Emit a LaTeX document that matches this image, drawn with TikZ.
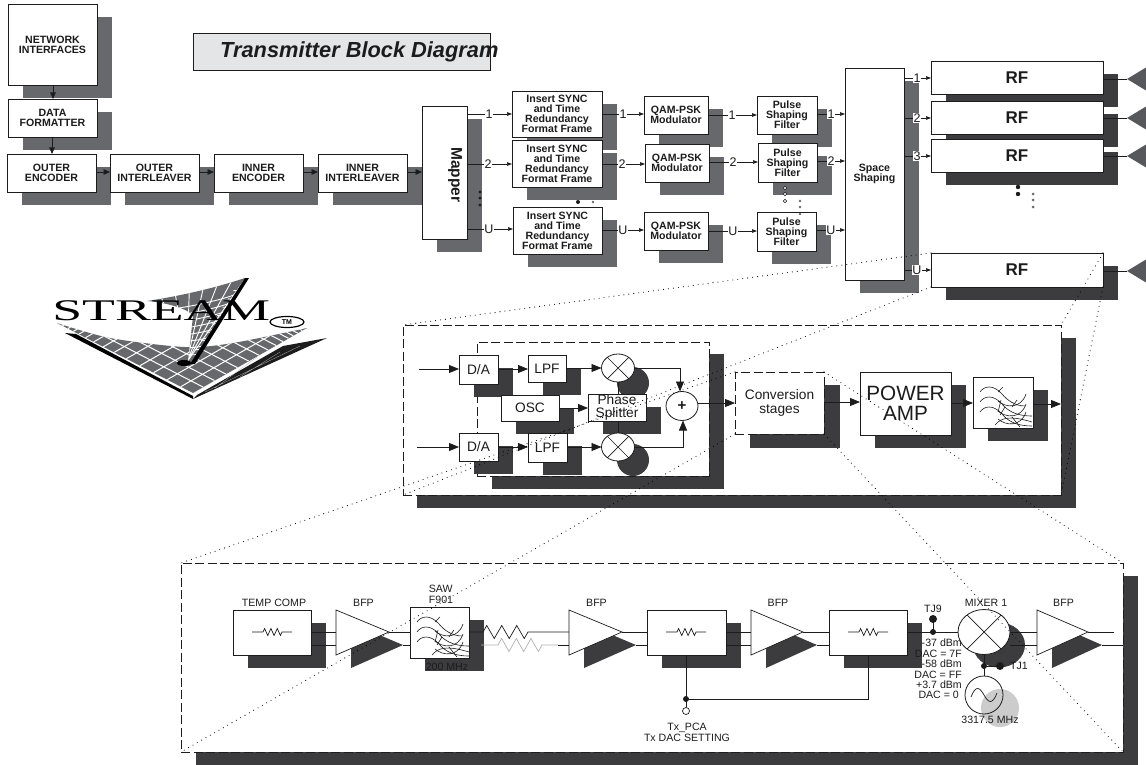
\documentclass[tikz,border=0pt]{standalone}
\usepackage{fontspec}
\setmainfont{Liberation Sans}
\newfontfamily\logofont{Liberation Serif}
\usetikzlibrary{arrows.meta,shapes.geometric,calc}
\definecolor{dk}{HTML}{3C3C3E}
\definecolor{md}{HTML}{66686C}
\definecolor{ink}{HTML}{1C1C1C}
\definecolor{ttl}{HTML}{E4E5E7}
\newcommand{\fz}[2]{\fontsize{#1}{#2}\selectfont}
\newcommand{\blk}[7][]{%
  \pgfmathsetmacro\bxw{#5-#3}\pgfmathsetmacro\bxh{#6-#4}%
  \node[blockbox,#1,minimum width=\bxw pt,minimum height=\bxh pt] (#2) at ({(#3+#5)/2},{(#4+#6)/2}) {#7};}
\newcommand{\sblk}[8][]{%
  \fill[#2] ({#4+15},{#5+13}) rectangle ({#6+15},{#7+13});
  \blk[#1]{#3}{#4}{#5}{#6}{#7}{#8}}
\newcommand{\conn}[5]{%
  \draw[sarr] (#1.east |- 0,#3) -- (#2.west |- 0,#3);
  \node[numlab] (#1-#2-lab) at (#5,#3) {#4};}
\newcommand{\zig}[4]{% x0 x1 y amp : three-peak resistor between x0 and x1
  ++(0,0) -- ({#1+(#2-#1)/12},{#3-#4}) -- ({#1+3*(#2-#1)/12},{#3+#4}) -- ({#1+5*(#2-#1)/12},{#3-#4}) -- ({#1+7*(#2-#1)/12},{#3+#4}) -- ({#1+9*(#2-#1)/12},{#3-#4}) -- ({#1+11*(#2-#1)/12},{#3+#4}) -- (#2,#3)}
\newcommand{\filt}[2]{%
\begin{scope}[shift={(#1,#2)},line width=.6pt,ink]
 \foreach \d/\e in {0/52,10/59,20/59}{
  \draw (7,{15+\d}) .. controls (11,{9+\d}) and (20,{7+\d}) .. (29,{17+\d}) .. controls (34,{23+\d}) and (42,{29+\d}) .. (\e,{29+\d});}
 \foreach \d in {0,10,18}{
  \draw (25,{24+\d}) .. controls (33,{31+\d}) and (48,{32+\d}) .. (53,{17+\d});}
 \draw (22,48) .. controls (28,41) and (36,38) .. (59,45);
 \draw (25,15) -- (30,10) (39,30) -- (44,23) (27,38) -- (32,30) (39,40) -- (47,50) (28,23) -- (25,35);
\end{scope}}
\newcommand{\amplf}[3]{% name, left x, right x
  \fill[dk] ({#2+15},623) -- ({#2+15},668) -- ({#3+14},645) -- cycle;
  \draw[wire,fill=white] (#2,610) -- (#2,655) -- (#3,632) -- cycle;
  \coordinate (#1i) at (#2,632); \coordinate (#1o) at (#3,632);
  \coordinate (#1j) at (#2,645); \coordinate (#1p) at ({#3+14},645);
  \node[lowtxt] (#1lab) at ({(#2+#3)/2+1},603) {BFP};}
\tikzset{
  blockbox/.style={draw=ink,fill=white,line width=.8pt,inner sep=0pt,outer sep=0pt,align=center,text=ink},
  headb/.style={font=\bfseries\fz{10.6}{10}},
  regb/.style={font=\fz{13.7}{13.5}},
  rfb/.style={font=\bfseries\fz{17}{18}},
  dashb/.style={dash pattern=on 9pt off 3.5pt,line width=.7pt},
  sarr/.style={draw=ink,line width=.7pt,-{Triangle[length=5pt,width=3.6pt]}},
  carr/.style={draw=ink,line width=.8pt,-{Triangle[length=6.5pt,width=5.5pt]}},
  barr/.style={draw=ink,line width=.8pt,-{Triangle[length=10pt,width=8pt]}},
  wire/.style={draw=ink,line width=.7pt},
  numlab/.style={fill=white,inner sep=.8pt,text=ink,font=\fz{12.5}{13}},
  lowtxt/.style={inner sep=0pt,text=ink,align=center,font=\fz{10.6}{10.4}},
  zoomline/.style={draw=black,line width=1.1pt,line cap=round,dash pattern=on 0pt off 5pt},
  mix/.style={draw=ink,fill=white,ellipse,inner sep=0pt,outer sep=0pt,line width=.8pt},
}
\begin{document}
\begin{tikzpicture}[x=1pt,y=-1pt]
\useasboundingbox (0,0) rectangle (1146,765);
% ---------- top chain
\sblk[headb]{md}{net}{8}{4}{97}{85}{NETWORK\\INTERFACES}
\sblk[headb]{md}{fmt}{8}{99}{97}{137}{DATA\\FORMATTER}
\sblk[headb]{md}{oenc}{7}{154}{96}{192}{OUTER\\ENCODER}
\sblk[headb]{md}{oint}{110}{154}{199}{192}{OUTER\\INTERLEAVER}
\sblk[headb]{md}{ienc}{214}{154}{303}{192}{INNER\\ENCODER}
\sblk[headb]{md}{iint}{318}{154}{407}{192}{INNER\\INTERLEAVER}
\sblk{md}{map}{422}{106}{467}{239}{}
\node[rotate=-90,inner sep=0pt,text=ink,font=\bfseries\fz{15.5}{16}] (maplab) at (455,175) {Mapper};
\blk[fill=ttl]{title}{193}{33}{490}{70}{}
\node[anchor=west,inner sep=0pt,text=ink,font=\bfseries\itshape\fz{21.8}{22}] (titlelab) at (220,51.5) {Transmitter Block Diagram};
% ---------- streams
\sblk[headb]{md}{ins1}{512}{91}{602}{137}{Insert SYNC\\and Time\\Redundancy\\Format Frame}
\sblk[headb]{md}{ins2}{512}{140}{602}{187}{Insert SYNC\\and Time\\Redundancy\\Format Frame}
\sblk[headb]{md}{insU}{513}{207}{602}{254}{Insert SYNC\\and Time\\Redundancy\\Format Frame}
\sblk[headb]{md}{qam1}{644}{96}{708}{134}{QAM-PSK\\Modulator}
\sblk[headb]{md}{qam2}{645}{144}{709}{182}{QAM-PSK\\Modulator}
\sblk[headb]{md}{qamU}{644}{212}{708}{250}{QAM-PSK\\Modulator}
\sblk[headb]{md}{pul1}{757}{96}{817}{134}{Pulse\\Shaping\\Filter}
\sblk[headb]{md}{pul2}{758}{143}{817}{182}{Pulse\\Shaping\\Filter}
\sblk[headb]{md}{pulU}{757}{212}{816}{251}{Pulse\\Shaping\\Filter}
\sblk[headb]{md}{spc}{845}{68}{904}{280}{Space\\Shaping}
\sblk[rfb]{dk}{rf1}{931}{61}{1103}{94}{RF}
\sblk[rfb]{dk}{rf2}{931}{101}{1103}{134}{RF}
\sblk[rfb]{dk}{rf3}{931}{139}{1103}{172}{RF}
\sblk[rfb]{dk}{rfU}{931}{253}{1103}{287}{RF}
% antennas
\foreach \n/\yy in {1/79,2/118,3/156,U/271}{
  \coordinate (ant\n) at (1127,\yy);
  \fill[md!85!black] (ant\n) -- (1146,{\yy-11.5}) -- (1146,{\yy+11.5}) -- cycle;
  \draw[wire] (rf\n.east |- ant\n) -- (ant\n);
}
% chain connectors
\draw[carr] (net.south -| 53,0) -- (fmt.north -| 53,0);
\draw[carr] (fmt.south -| 52,0) -- (oenc.north -| 52,0);
\draw[carr] (oenc.east |- 0,172) -- (oint.west |- 0,172);
\draw[carr] (oint.east |- 0,172) -- (ienc.west |- 0,172);
\draw[carr] (ienc.east |- 0,172) -- (iint.west |- 0,172);
\draw[carr] (iint.east |- 0,172) -- (map.west |- 0,172);
\conn{map}{ins1}{114}{1}{489}
\conn{map}{ins2}{164}{2}{488}
\conn{map}{insU}{229}{U}{489}
\conn{ins1}{qam1}{114}{1}{623}
\conn{ins2}{qam2}{164}{2}{622}
\conn{insU}{qamU}{230}{U}{623}
\conn{qam1}{pul1}{115}{1}{732}
\conn{qam2}{pul2}{162}{2}{733}
\conn{qamU}{pulU}{231}{U}{733}
\conn{pul1}{spc}{114}{1}{831}
\conn{pul2}{spc}{161}{2}{831}
\conn{pulU}{spc}{230}{U}{831}
\conn{spc}{rf1}{78}{1}{917}
\conn{spc}{rf2}{118}{2}{917}
\conn{spc}{rf3}{156}{3}{917}
\conn{spc}{rfU}{270}{U}{917}
% ellipsis dots
\foreach \yy in {192,198,205}{\fill[ink] (480,\yy) circle (1.7pt);}
\fill[ink] (578,202) circle (2pt); \fill[md] (593,202) circle (1.4pt);
\foreach \yy in {188,194,201}{\draw[ink,line width=.6pt,fill=white] (785,\yy) circle (1.7pt);}
\foreach \yy in {201,207,214}{\fill[md] (800,\yy) circle (1.4pt);}
\foreach \yy in {187,194}{\fill[ink] (1018,\yy) circle (2.2pt);}
\foreach \yy in {194,200,207}{\fill[md] (1033,\yy) circle (1.5pt);}
% ---------- logo
\begin{scope}
 \begin{scope}
  \clip plot[smooth] coordinates {(57,323) (110,338) (185,347) (233,343) (307,328)} -- (193,393) -- cycle;
  \fill[md] (40,310) rectangle (320,400);
  \foreach \u in {.09,.19,.29,.39,.49,.58,.66,.73,.79,.84,.88,.92,.96}{
    \draw[white,line width=1pt] ($(193,393)+\u*(-136,-70)$) -- ++(171,-98);
    \draw[white,line width=1pt] ($(193,393)+\u*(114,-65)$) -- ++(-204,-105);}
 \end{scope}
 \fill[black] (65,333) -- (193,399) -- (193,396) -- (76,334) -- cycle;
 \fill[ink] (193,399) -- (327,338) -- (283,346) -- (197,395) -- cycle;
 \draw[white!70!black,line width=.3pt] (215,388) -- (257,357) (240,377) -- (280,352) (205,392) -- (300,346);
 \begin{scope}
  \clip (147,301) .. controls (180,296) and (215,288) .. (245,278) -- (190,364) -- (188,363) -- (193,316) .. controls (190,310) and (170,303) .. (147,301) -- cycle;
  \fill[md] (140,275) rectangle (250,365);
  \foreach \t in {-.15,0,.15,.3,.45,.6,.75,.9,1.05}{
    \draw[white,line width=.9pt] (187,362) -- ($(147,300)+\t*(94,-21)$);}
  \foreach \t in {.15,.26,.36,.46,.56,.66,.76,.86}{
    \draw[white,line width=.9pt] ($(187,362)+\t*(-40,-62)$) .. controls +(15,6) and +(30,0) .. ($(187,362)+\t*(54,-83)$);}
 \end{scope}
 \fill[black] (190,364) -- (195,364) -- (249,278) -- (245,278) -- cycle;
 \fill[black] (184,363) ellipse (7pt and 3pt);
 \node[anchor=base west,inner sep=0pt,xscale=1.79,transform shape,font=\logofont\fz{30}{30},text=black] (stream) at (52,320) {STREAM};
 \node[draw=black,line width=1.2pt,ellipse,inner sep=0pt,minimum width=34pt,minimum height=11pt,font=\bfseries\fz{7}{7}] (tm) at (287,322) {TM};
\end{scope}
% ---------- RF detail: outer
\fill[dk] (417,338) rectangle (1076,508);
\blk[dashb]{outer}{403}{325}{1061}{495}{}
\fill[dk] (492,354) rectangle (724,489);
\blk[dashb]{inner}{477}{342}{709}{476}{}
\sblk[regb]{dk}{da1}{459}{355}{498}{384}{D/A}
\sblk[regb]{dk}{lpf1}{528}{355}{566}{382}{LPF}
\fill[dk] (633,383) circle (16pt);
\node[mix,minimum width=33pt,minimum height=28pt] (mx1) at (618,368) {};
\draw[wire] (mx1.45) -- (mx1.225) (mx1.135) -- (mx1.315);
\sblk[regb]{dk}{osc}{501}{395}{559}{421}{OSC}
\sblk[regb]{dk}{phs}{588}{394}{646}{421}{Phase\\Splitter}
\sblk[regb]{dk}{da2}{459}{433}{498}{461}{D/A}
\sblk[regb]{dk}{lpf2}{528}{433}{567}{462}{LPF}
\fill[dk] (633,460) circle (16pt);
\node[mix,minimum width=33pt,minimum height=28pt] (mx2) at (618,447) {};
\draw[wire] (mx2.45) -- (mx2.225) (mx2.135) -- (mx2.315);
\node[mix,minimum width=32pt,minimum height=29pt,font=\bfseries\fz{15}{15},text=ink] (plus) at (682,406) {+};
\fill[dk] (750,385) rectangle (840,448);
\blk[regb,dashb]{conv}{735}{372}{824}{434}{Conversion\\stages}
\sblk[font=\fz{20.7}{20}]{dk}{pa}{860}{372}{951}{435}{POWER\\AMP}
\sblk{dk}{flt}{973}{377}{1033}{428}{}
\filt{973}{377}
\coordinate (in1) at (419,369); \coordinate (in2) at (417,447);
\draw[barr] (in1) -- (da1.west |- in1);
\draw[barr] (da1.east |- 0,369) -- (lpf1.west |- 0,369);
\draw[barr] (lpf1.east |- 0,368) -- (mx1.west);
\draw[barr] (in2) -- (da2.west |- in2);
\draw[barr] (da2.east |- 0,447) -- (lpf2.west |- 0,447);
\draw[barr] (lpf2.east |- 0,447) -- (mx2.west);
\draw[barr] (osc.east |- 0,408) -- (phs.west |- 0,408);
\draw[wire] (mx1.south) -- (phs.north -| mx1.south);
\draw[wire] (mx2.north) -- (phs.south -| mx2.north);
\draw[barr] (mx1.east) -- (680,368) -- (680,391.5);
\draw[barr] (mx2.east) -- (683,447) -- (683,420.5);
\draw[barr] (plus.east |- 0,403) -- (conv.west |- 0,403);
\draw[barr] (conv.east |- 0,402) -- (pa.west |- 0,402);
\draw[barr] (pa.east |- 0,403) -- (flt.west |- 0,403);
\draw[barr] (flt.east |- 0,404) -- (outer.east |- 0,404);
% ---------- Conversion detail
\fill[dk] (196,576) rectangle (1138,765);
\blk[dashb]{detail}{181}{563}{1123}{752}{}
\sblk{dk}{tcomp}{233}{610}{311}{655}{}
\node[lowtxt] (tcomplab) at (274,603) {TEMP COMP};
\draw[wire] (252,632) -- (263,632) \zig{263}{282}{632}{3.5} -- (292,632);
\amplf{a}{336}{389}
\sblk{dk}{saw}{410}{607}{469}{658}{}
\filt{410}{607}
\node[lowtxt,align=left] (sawlab) at (441,594.5) {SAW\\F901};
\node[lowtxt] (sawf) at (447,667) {200 MHz};
\amplf{b}{569}{622}
\sblk{dk}{tb3}{647}{610}{726}{655}{}
\draw[wire] (666,632) -- (677,632) \zig{677}{696}{632}{3.5} -- (706,632);
\amplf{c}{751}{803}
\sblk{dk}{tb4}{829}{610}{907}{655}{}
\draw[wire] (848,632) -- (859,632) \zig{859}{878}{632}{3.5} -- (888,632);
% mixer and oscillator
\fill[dk] (999,645) ellipse (26pt and 22.5pt);
\node[mix,minimum width=52pt,minimum height=45pt] (mxr) at (984,632) {};
\draw[wire] (mxr.45) -- (mxr.225) (mxr.135) -- (mxr.315);
\fill[black!20] (1000,708) circle (19pt);
\node[mix,fill=none,circle,minimum size=38pt] (lo) at (984,695) {};
\draw[wire] (971,697) .. controls (976,684) and (980,688) .. (984,695) .. controls (988,702) and (992,706) .. (997,693);
\amplf{d}{1037}{1088}
\node[lowtxt] (mxlab) at (986,603) {MIXER 1};
\node[lowtxt] (tj9) at (933,609) {TJ9};
\node[lowtxt] (tj1) at (1019,666) {TJ1};
\node[lowtxt,align=right,anchor=north east] (dbm) at (962,639) {-37 dBm\\DAC = 7F\\-58 dBm\\DAC = FF\\+3.7 dBm\\DAC = 0\ \ };
\node[lowtxt] (lofreq) at (990,720) {3317.5 MHz};
\node[lowtxt] (txp) at (687,728) {Tx\_PCA};
\node[lowtxt] (txd) at (687,738) {Tx DAC SETTING};
% wiring
\draw[wire] (tcomp.east |- ai) -- (ai) (tcomp.east |- aj) -- (aj);
\draw[wire] (ao) -- (saw.west |- ao) (ap) -- (saw.west |- ap);
\draw[wire] (saw.east |- ao) -- (483,632) \zig{483}{528}{632}{6.5} -- (bi);
\draw[draw=black!30,line width=.7pt] (481,645) -- (498,645) \zig{498}{542}{645}{6.5} -- (558,645);
\draw[wire] (558,645) -- (bj);
\draw[wire] (bo) -- (tb3.west |- bo) (bp) -- (tb3.west |- bp);
\draw[wire] (tb3.east |- ci) -- (ci) (tb3.east |- cj) -- (cj);
\draw[wire] (co) -- (tb4.west |- co) (cp) -- (tb4.west |- cp);
\draw[wire] (tb4.east |- 0,632) -- (mxr.west);
\coordinate (tj9a) at (933,632); \coordinate (tj9b) at (933,619);
\draw[wire] (tj9a) -- (tj9b);
\fill[ink] (tj9a) circle (3pt); \fill[ink] (tj9b) circle (4pt);
\draw[wire] (mxr.east) -- (di) (dp) -- (detail.east |- dp);
\draw[wire] (mxr.east |- dj) -- (dj) (do) -- (1114,632);
\coordinate (tj1a) at (984,666); \coordinate (tj1b) at (1000,666);
\draw[wire] (mxr.south) -- (lo.north);
\draw[wire] (tj1a) -- (tj1b);
\fill[ink] (tj1a) circle (3pt); \fill[ink] (tj1b) circle (4pt);
\coordinate (fb) at (686,699);
\draw[wire] (tb3.south -| fb) -- (fb) -- (868,699) -- (tb4.south -| 868,0);
\node[draw=ink,circle,fill=white,inner sep=0pt,minimum size=7pt,line width=.7pt] (txpin) at (686,711) {};
\draw[wire] (fb) -- (txpin);
\fill[ink] (fb) circle (3pt);
% ---------- zoom lines
\draw[zoomline] (rfU.north west) -- (outer.north west);
\draw[zoomline] (rfU.south west) -- (outer.south west);
\draw[zoomline] (rfU.north east) -- (outer.north east);
\draw[zoomline] (rfU.south east) -- (outer.south east);
\draw[zoomline] (conv.north west) -- (detail.north west);
\draw[zoomline] (conv.south west) -- (detail.south west);
\draw[zoomline] (conv.north east) -- (detail.north east);
\draw[zoomline] (conv.south east) -- (detail.south east);
\end{tikzpicture}
\end{document}
